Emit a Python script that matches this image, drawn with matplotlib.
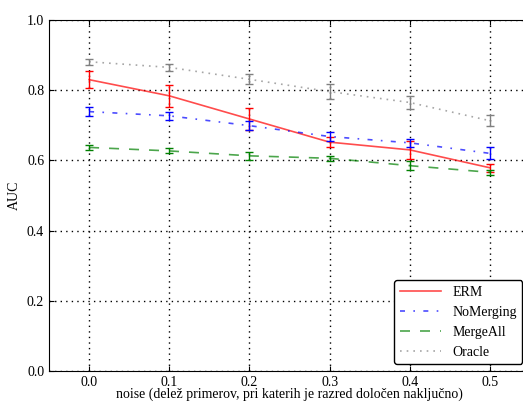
import numpy as np
import matplotlib.pyplot as plt

plt.rcParams['font.family'] = ['Liberation Serif', 'DejaVu Serif']
plt.rcParams['font.size'] = 10
plt.rcParams['xtick.direction'] = 'in'
plt.rcParams['ytick.direction'] = 'in'
plt.rcParams['xtick.top'] = True
plt.rcParams['ytick.right'] = True

# data
noise = [0.0, 0.1, 0.2, 0.3, 0.4, 0.5]
erm = [0.830, 0.784, 0.718, 0.652, 0.630, 0.579]
erm_err = [0.025, 0.032, 0.032, 0.015, 0.025, 0.012]
nomerging = [0.739, 0.727, 0.699, 0.668, 0.650, 0.620]
nomerging_err = [0.012, 0.012, 0.012, 0.012, 0.012, 0.017]
mergeall = [0.637, 0.627, 0.613, 0.606, 0.585, 0.566]
mergeall_err = [0.007, 0.007, 0.012, 0.007, 0.012, 0.007]
oracle = [0.881, 0.865, 0.831, 0.796, 0.765, 0.713]
oracle_err = [0.008, 0.009, 0.014, 0.021, 0.019, 0.016]

series = [
    ("ERM", erm, erm_err, "red", "-", None),
    ("NoMerging", nomerging, nomerging_err, "blue", "-.", (0, (3, 5, 1, 5))),
    ("MergeAll", mergeall, mergeall_err, "green", "--", (0, (6, 6))),
    ("Oracle", oracle, oracle_err, "gray", ":", (0, (1, 3))),
]

fig = plt.figure(figsize=(5.23, 4.04), dpi=100)
ax = fig.add_axes([49 / 523, 33 / 404, 481 / 523, 351 / 404])

for name, vals, errs, col, ls, dash in series:
    line_style = dash if dash is not None else ls
    ax.plot(noise, vals, color=col, linestyle=line_style, linewidth=1.2, alpha=0.7, label=name)
    ax.errorbar(noise, vals, yerr=errs, fmt='none', ecolor=col, elinewidth=1,
                capsize=3, capthick=1)

ax.set_xlim(-0.05, 0.55)
ax.set_ylim(0.0, 1.0)
ax.set_xticks(noise)
ax.set_yticks([0.0, 0.2, 0.4, 0.6, 0.8, 1.0])
ax.xaxis.set_major_formatter(plt.FormatStrFormatter('%.1f'))
ax.yaxis.set_major_formatter(plt.FormatStrFormatter('%.1f'))
ax.grid(True, color='black', linestyle=(0, (1, 3)), linewidth=1)
ax.set_xlabel("noise (delež primerov, pri katerih je razred določen naključno)", labelpad=-1)
ax.set_ylabel("AUC")
ax.legend(loc='lower right', fancybox=True, framealpha=1, edgecolor='black',
          bbox_to_anchor=(0.9985, 0.0), handlelength=3)

fig.savefig("out.png", dpi=100)
